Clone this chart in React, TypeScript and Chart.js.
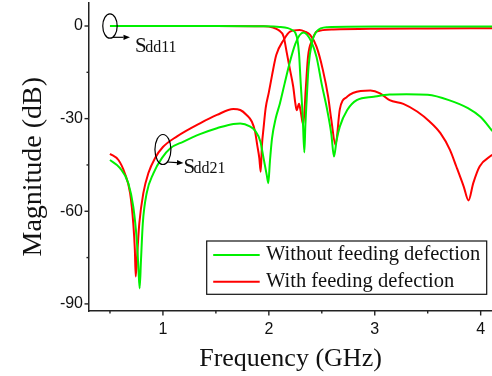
import React, { useEffect, useRef } from "react";
import { Chart, registerables } from "chart.js";

Chart.register(...registerables);

// ---- data (frequency in GHz, magnitude in dB) ----
const FREQ_WO_S21 = [0.5, 0.595, 0.673, 0.72, 0.753, 0.768, 0.78, 0.793, 0.81, 0.847, 0.91, 0.99, 1.07, 1.19, 1.35, 1.51, 1.665, 1.73, 1.82, 1.87, 1.92, 1.95, 1.98, 1.995, 2.01, 2.03, 2.065, 2.105, 2.15, 2.2, 2.25, 2.29, 2.33, 2.36, 2.4, 2.45, 2.5, 2.55, 2.59, 2.615, 2.64, 2.67, 2.74, 2.83, 2.99, 3.14, 3.3, 3.5, 3.7, 3.88, 4.0, 4.11];
const DB_WO_S21 = [-43.4, -46.0, -50.9, -58.5, -69.3, -77.9, -85.0, -75.7, -63.9, -54.1, -47.7, -42.8, -39.6, -37.5, -35.0, -33.1, -31.7, -31.6, -32.5, -33.9, -37.4, -42.8, -48.2, -50.9, -43.9, -36.4, -29.9, -25.0, -18.5, -11.5, -5.8, -3.0, -2.1, -2.8, -5.0, -10.0, -19.0, -27.0, -35.0, -42.3, -36.9, -32.6, -27.2, -24.0, -22.9, -22.2, -22.1, -22.3, -24.0, -26.6, -29.5, -34.0];

const FREQ_WO_S11 = [0.5, 1.0, 1.5, 1.95, 2.1, 2.18, 2.22, 2.25, 2.27, 2.285, 2.3, 2.32, 2.335, 2.345, 2.357, 2.375, 2.405, 2.45, 2.55, 3.0, 3.5, 4.11];
const DB_WO_S11 = [0, 0, 0, -0.1, -0.3, -0.7, -1.3, -2.2, -4.5, -9, -18, -29.5, -40.9, -32, -24, -13.2, -5.6, -1.8, -0.4, -0.2, -0.2, -0.2];

const FREQ_W_S21 = [0.5, 0.58, 0.64, 0.69, 0.72, 0.735, 0.743, 0.76, 0.777, 0.815, 0.862, 0.925, 1.0, 1.13, 1.35, 1.51, 1.665, 1.73, 1.79, 1.84, 1.87, 1.89, 1.91, 1.923, 1.935, 1.95, 1.97, 2.0, 2.03, 2.07, 2.14, 2.2, 2.29, 2.34, 2.39, 2.45, 2.51, 2.56, 2.59, 2.63, 2.67, 2.74, 2.8, 2.96, 3.05, 3.14, 3.27, 3.4, 3.52, 3.62, 3.71, 3.77, 3.84, 3.885, 3.93, 3.99, 4.11];
const DB_W_S21 = [-41.4, -43.4, -47.7, -54.1, -63.9, -72.5, -81.1, -72.5, -63.9, -54.1, -47.7, -42.8, -39.2, -35.8, -31.5, -28.8, -26.9, -27.2, -28.8, -31.0, -34.2, -38.5, -42.8, -47.2, -38.5, -33.1, -26.6, -21.5, -16.0, -9.4, -4.5, -1.8, -1.3, -1.8, -2.9, -6.7, -14.2, -22.9, -30.4, -38.5, -27.0, -22.9, -21.6, -20.9, -21.8, -24.0, -25.2, -27.7, -31.0, -34.7, -40.1, -45.5, -52.0, -56.5, -50.9, -45.5, -41.7];

const FREQ_W_S11 = [0.5, 1.0, 1.5, 1.95, 2.04, 2.09, 2.14, 2.17, 2.2, 2.23, 2.25, 2.263, 2.285, 2.3, 2.325, 2.35, 2.37, 2.41, 2.45, 2.61, 3.0, 3.5, 4.11];
const DB_W_S11 = [0, 0, 0, -0.1, -0.5, -1.3, -3.5, -8.8, -14.2, -19.6, -25, -27.3, -25.2, -27.5, -32, -19.6, -9.9, -4.5, -1.8, -1.1, -0.9, -0.8, -0.7];

const SERIES_LABELS = ["Without feeding defection", "With feeding defection"];
const SERIES_COLORS = ["#00f000", "#ff0000"];

const X_MAJOR_TICKS = [1, 2, 3, 4];
const X_MINOR_TICKS = [0.5, 1.5, 2.5, 3.5];
const Y_MAJOR_TICKS = [-90, -60, -30, 0];
const Y_MINOR_TICKS = [-75, -45, -15];

const X_TITLE = "Frequency (GHz)";
const Y_TITLE = "Magnitude (dB)";

// callouts anchored at data points
const CALLOUTS = [
  { f: 0.5, db: 0, main: "S", sub: "dd11" },
  { f: 1.0, db: -40, main: "S", sub: "dd21" },
];

// ---- styles ----
const SANS = '"Liberation Sans", Arial, sans-serif';
const SERIF = '"Liberation Serif", "Times New Roman", serif';
const AXIS_COLOR = "#222";
const TEXT_COLOR = "#111";
const CALLOUT_STYLE = [
  { rx: 7.2, ry: 12.2, a1: [3, 11.3], a2: [20, 11.3], t: [25, 25.7] },
  { rx: 8, ry: 15, a1: [4, 12.5], a2: [20.5, 13.5], t: [20.5, 23] },
];

const decorPlugin = {
  id: "decor",
  afterDraw(chart: any) {
    const { ctx, chartArea, scales } = chart;
    const xs = scales.x;
    const ys = scales.y;
    ctx.save();
    ctx.strokeStyle = AXIS_COLOR;
    ctx.fillStyle = AXIS_COLOR;
    ctx.lineWidth = 1.4;
    const xTick = (v: number, len: number) => {
      const p = xs.getPixelForValue(v);
      ctx.beginPath();
      ctx.moveTo(p, chartArea.bottom);
      ctx.lineTo(p, chartArea.bottom + len);
      ctx.stroke();
    };
    const yTick = (v: number, len: number) => {
      const p = ys.getPixelForValue(v);
      ctx.beginPath();
      ctx.moveTo(chartArea.left, p);
      ctx.lineTo(chartArea.left - len, p);
      ctx.stroke();
    };
    X_MAJOR_TICKS.forEach((v) => xTick(v, 4.5));
    X_MINOR_TICKS.forEach((v) => xTick(v, 2.5));
    Y_MAJOR_TICKS.forEach((v) => yTick(v, 4.5));
    Y_MINOR_TICKS.forEach((v) => yTick(v, 2.5));

    // y-axis title
    ctx.save();
    ctx.fillStyle = TEXT_COLOR;
    ctx.font = `28px ${SERIF}`;
    ctx.textAlign = "center";
    ctx.textBaseline = "alphabetic";
    ctx.translate(chartArea.left - 48.5, (chartArea.top + chartArea.bottom) / 2 + 9.7);
    ctx.rotate(-Math.PI / 2);
    ctx.fillText(Y_TITLE, 0, 0);
    ctx.restore();

    // callouts
    CALLOUTS.forEach((c, i) => {
      const s = CALLOUT_STYLE[i];
      const cx = xs.getPixelForValue(c.f);
      const cy = ys.getPixelForValue(c.db);
      ctx.strokeStyle = "#000";
      ctx.fillStyle = "#000";
      ctx.lineWidth = 1.2;
      ctx.beginPath();
      ctx.ellipse(cx, cy, s.rx, s.ry, 0, 0, Math.PI * 2);
      ctx.stroke();
      const x1 = cx + s.a1[0], y1 = cy + s.a1[1];
      const x2 = cx + s.a2[0], y2 = cy + s.a2[1];
      const ang = Math.atan2(y2 - y1, x2 - x1);
      const hl = 6.5, hw = 2.6;
      ctx.beginPath();
      ctx.moveTo(x1, y1);
      ctx.lineTo(x2 - hl * Math.cos(ang), y2 - hl * Math.sin(ang));
      ctx.stroke();
      ctx.beginPath();
      ctx.moveTo(x2, y2);
      ctx.lineTo(x2 - hl * Math.cos(ang) + hw * Math.sin(ang), y2 - hl * Math.sin(ang) - hw * Math.cos(ang));
      ctx.lineTo(x2 - hl * Math.cos(ang) - hw * Math.sin(ang), y2 - hl * Math.sin(ang) + hw * Math.cos(ang));
      ctx.closePath();
      ctx.fill();
      ctx.fillStyle = TEXT_COLOR;
      ctx.textAlign = "left";
      ctx.textBaseline = "alphabetic";
      ctx.font = `21px ${SERIF}`;
      const tx = cx + s.t[0], ty = cy + s.t[1];
      ctx.fillText(c.main, tx, ty);
      const w = ctx.measureText(c.main).width;
      ctx.font = `16px ${SERIF}`;
      ctx.fillText(c.sub, tx + w - 1.5, ty);
    });

    // legend
    const seen: string[] = [];
    const entries: { label: string; color: string }[] = [];
    chart.data.datasets.forEach((d: any) => {
      if (!seen.includes(d.label)) {
        seen.push(d.label);
        entries.push({ label: d.label, color: d.borderColor });
      }
    });
    const bw = 280, bh = 53.3;
    const bx = chartArea.right - 5.3 - bw;
    const by = chartArea.bottom - 16.7 - bh;
    ctx.fillStyle = "#fff";
    ctx.fillRect(bx, by, bw, bh);
    ctx.strokeStyle = "#111";
    ctx.lineWidth = 1.2;
    ctx.strokeRect(bx, by, bw, bh);
    entries.forEach((e, i) => {
      const ly = by + 14 + i * 26.7;
      ctx.strokeStyle = e.color;
      ctx.lineWidth = 2;
      ctx.beginPath();
      ctx.moveTo(bx + 6.5, ly);
      ctx.lineTo(bx + 53, ly);
      ctx.stroke();
      ctx.fillStyle = TEXT_COLOR;
      ctx.font = `20.5px ${SERIF}`;
      ctx.textAlign = "left";
      ctx.textBaseline = "middle";
      ctx.fillText(e.label, bx + 59.3, ly);
    });
    ctx.restore();
  },
};

function pts(xs: number[], ys: number[]) {
  return xs.map((x, i) => ({ x, y: ys[i] }));
}

export default function App() {
  const ref = useRef<HTMLCanvasElement>(null);
  useEffect(() => {
    const canvas = ref.current;
    if (!canvas) return;
    const ds = (label: string, color: string, data: any[]) => ({
      label,
      data,
      borderColor: color,
      backgroundColor: color,
      borderWidth: 2,
      pointRadius: 0,
      fill: false,
      cubicInterpolationMode: "monotone" as const,
    });
    const chart = new Chart(canvas, {
      type: "line",
      data: {
        datasets: [
          ds(SERIES_LABELS[0], SERIES_COLORS[0], pts(FREQ_WO_S21, DB_WO_S21)),
          ds(SERIES_LABELS[0], SERIES_COLORS[0], pts(FREQ_WO_S11, DB_WO_S11)),
          ds(SERIES_LABELS[1], SERIES_COLORS[1], pts(FREQ_W_S21, DB_W_S21)),
          ds(SERIES_LABELS[1], SERIES_COLORS[1], pts(FREQ_W_S11, DB_W_S11)),
        ],
      },
      options: {
        responsive: false,
        animation: false,
        layout: { padding: { top: 3, right: 0, left: 0, bottom: 0 } },
        plugins: { legend: { display: false }, tooltip: { enabled: false } },
        scales: {
          x: {
            type: "linear",
            min: 0.302,
            max: 4.107,
            afterBuildTicks: (s: any) => {
              s.ticks = X_MAJOR_TICKS.map((v) => ({ value: v }));
            },
            afterFit: (s: any) => {
              s.height = 65;
              s.paddingLeft = 0;
              s.paddingRight = 0;
              s.paddingTop = 0;
              s.paddingBottom = 0;
            },
            grid: { display: false, drawTicks: false },
            border: { display: true, color: AXIS_COLOR, width: 1.5 },
            ticks: {
              padding: 9,
              color: TEXT_COLOR,
              font: { family: SANS, size: 16 },
              maxRotation: 0,
              callback: (v: any) => String(v),
            },
            title: {
              display: true,
              text: X_TITLE,
              color: TEXT_COLOR,
              font: { family: SERIF, size: 26 },
              padding: { top: 0, bottom: 1 },
            },
          },
          y: {
            type: "linear",
            min: -92.3,
            max: 7.45,
            afterBuildTicks: (s: any) => {
              s.ticks = Y_MAJOR_TICKS.map((v) => ({ value: v }));
            },
            afterFit: (s: any) => {
              s.width = 89;
              s.paddingLeft = 0;
              s.paddingRight = 0;
              s.paddingTop = 0;
              s.paddingBottom = 0;
            },
            grid: { display: false, drawTicks: false },
            border: { display: true, color: AXIS_COLOR, width: 1.5 },
            ticks: {
              padding: 6,
              color: TEXT_COLOR,
              font: { family: SANS, size: 16 },
              callback: (v: any) => String(v),
            },
          },
        },
      },
      plugins: [decorPlugin],
    });
    return () => chart.destroy();
  }, []);
  return (
    <div style={{ position: "absolute", left: 0, top: 0, width: 492, height: 376, background: "#fff" }}>
      <canvas ref={ref} width={492} height={376} style={{ display: "block" }} />
    </div>
  );
}
